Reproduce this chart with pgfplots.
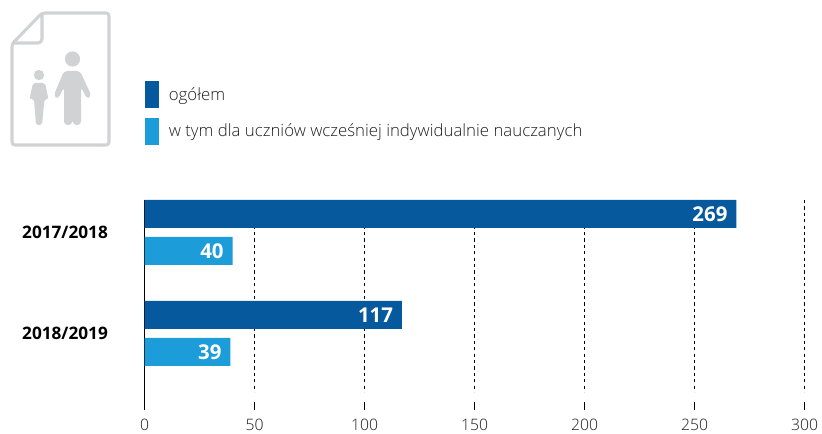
\documentclass[border=0pt]{standalone}
\usepackage{pgfplots}
\pgfplotsset{compat=1.18}
\usepackage{fontspec}
\setmainfont{Open Sans}
\newfontfamily\light{Open Sans Light}
\definecolor{dark}{HTML}{07599E}
\definecolor{sky}{HTML}{1C9CD9}
\definecolor{icon}{HTML}{D1D2D4}
\definecolor{tick}{HTML}{1E1E1E}
\begin{document}
\begin{tikzpicture}[x=0.75pt,y=-0.75pt]
\path[use as bounding box] (0,0) rectangle (822,434);
% icon
\draw[icon,line width=2.3pt,line join=round,rounded corners=2.2pt] (12,44) -- (42,13) -- (109,13) -- (109,145) -- (12,145) -- cycle;
\draw[icon,line width=2.3pt,line join=round,rounded corners=3pt] (42,13) -- (42,43) -- (12,43);
\fill[icon] (72.5,59) circle (7.6);
\fill[icon] (39,75) circle (5.2);
\fill[icon,rounded corners=2.6pt] (64,71) -- (80,71) -- (91.5,96) -- (87,99) -- (81,87) -- (81,125) -- (73,125) -- (72.5,118) -- (72,125) -- (64,125) -- (64,87) -- (58,99) -- (53.5,96) -- cycle;
\fill[icon,rounded corners=1.5pt] (33,83) -- (45,83) -- (48.5,99) -- (44.5,99) -- (42,125) -- (36,125) -- (34,99) -- (29.5,99) -- cycle;
\begin{axis}[
  at={(65.7,410)},anchor=south west,
  scale only axis,width=495pt,height=157.5pt,
  xmin=0,xmax=300,ymin=200,ymax=410,y dir=reverse,
  axis y line=left,axis x line*=bottom,
  axis line style={-},
  y axis line style={black,line width=1.1pt},
  x axis line style={draw=none},
  xtick={0,50,100,150,200,250,300},
  ytick={232,333},yticklabels={2017/2018,2018/2019},
  tick align=inside,
  major tick length=6pt,
  xtick style={black,line width=0.9pt},
  ytick style={draw=none},
  xticklabel style={font=\light\fontsize{11.8}{14}\selectfont,text=tick,inner sep=0pt,yshift=-6.5pt},
  yticklabel style={font=\bfseries\fontsize{12.9}{15}\selectfont,text=black,xshift=-24pt},
  /pgf/number format/assume math mode=true,
  clip=false,
  legend style={draw=none,fill=none,at={(axis cs:0,113)},anchor=west,
    font=\light\fontsize{12.6}{15}\selectfont,text=tick,
    legend cell align=left,inner xsep=0pt,inner ysep=0pt,row sep=7pt,
    /tikz/every even column/.style={column sep=0pt}},
  legend image code/.code={\fill[#1] (0pt,-10.1pt) rectangle (10.5pt,10.1pt);},
  bar width=21pt,
  bar shift=0pt,
  nodes near coords,
  nodes near coords style={anchor=east,xshift=-4.5pt,text=white,font=\bfseries\fontsize{15.3}{18}\selectfont,inner sep=2pt},
]
\addplot[forget plot,dash pattern=on 2.4pt off 2.4pt,black,line width=0.6pt,nodes near coords=\empty] coordinates {(50,200) (50,392)};
\addplot[forget plot,dash pattern=on 2.4pt off 2.4pt,black,line width=0.6pt,nodes near coords=\empty] coordinates {(100,200) (100,392)};
\addplot[forget plot,dash pattern=on 2.4pt off 2.4pt,black,line width=0.6pt,nodes near coords=\empty] coordinates {(150,200) (150,392)};
\addplot[forget plot,dash pattern=on 2.4pt off 2.4pt,black,line width=0.6pt,nodes near coords=\empty] coordinates {(200,200) (200,392)};
\addplot[forget plot,dash pattern=on 2.4pt off 2.4pt,black,line width=0.6pt,nodes near coords=\empty] coordinates {(250,200) (250,392)};
\addplot[forget plot,dash pattern=on 2.4pt off 2.4pt,black,line width=0.6pt,nodes near coords=\empty] coordinates {(300,200) (300,392)};
\addplot[xbar,draw=none,fill=dark,point meta=x] coordinates {(269,214) (117,315)};
\addlegendentry{\hspace{5.5pt}ogółem}
\addplot[xbar,draw=none,fill=sky,point meta=x] coordinates {(40,251) (39,352)};
\addlegendentry{\hspace{5.5pt}w tym dla uczniów wcześniej indywidualnie nauczanych}
\end{axis}
\end{tikzpicture}
\end{document}
